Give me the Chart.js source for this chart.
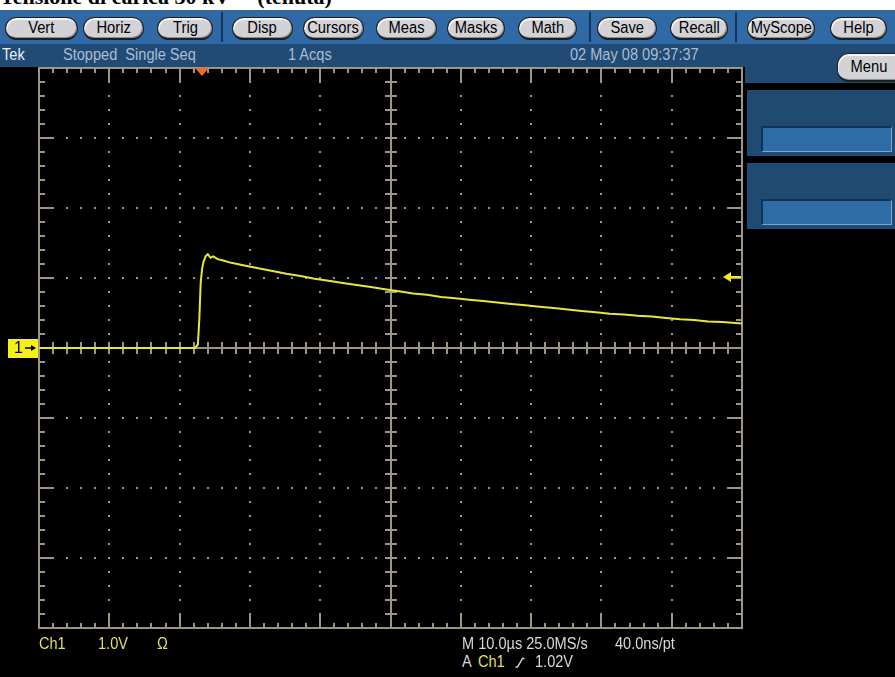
<!DOCTYPE html>
<html>
<head>
<meta charset="utf-8">
<script src="https://cdn.jsdelivr.net/npm/chart.js@4.4.1/dist/chart.umd.min.js"></script>
<style>
  html, body { margin: 0; padding: 0; }
  body {
    width: 895px; height: 677px; position: relative; overflow: hidden;
    background: #000;
    font-family: "Liberation Sans", Arial, sans-serif;
  }
  .abs { position: absolute; }
  #titleBand { left: 0; top: 0; width: 895px; height: 10px; background: #fff; overflow: hidden; }
  #titleText {
    position: absolute; left: 0; top: -14px; white-space: nowrap;
    font: bold 22px/22px "Liberation Serif", "DejaVu Serif", serif; color: #000;
  }
  #menuBar { left: 0; top: 10px; width: 895px; height: 34px; background: #306aa6; }
  .sep { position: absolute; top: 12px; width: 2px; height: 30px; background: #17355a; }
  .btn {
    position: absolute; top: 17px; height: 23px; box-sizing: border-box;
    border: 1px solid #1e1e1e; border-bottom-width: 2px; border-radius: 12px;
    background: #d3d3d7; color: #000;
    box-shadow: inset 1px 2px 0 #f4f4f4, inset -1px -1px 0 #8d8d92;
    font-size: 16px; line-height: 20px; text-align: center; white-space: nowrap;
  }
  .btn span { display: inline-block; transform: scaleX(0.92); }
  #status { left: 0; top: 44px; width: 895px; height: 23px; background: #214b75; }
  .st, .lbl { position: absolute; font-size: 16px; line-height: 18px; white-space: nowrap; transform: scaleX(0.91); transform-origin: 0 0; }
  .st { top: 46px; color: #a9bed3; }
  #sideTop { left: 745px; top: 67px; width: 150px; height: 16px; background: #214b75; }
  .panel { position: absolute; left: 747px; width: 148px; height: 66px; background: #1f4a72; }
  .field {
    position: absolute; left: 761px; width: 131px; height: 26px; box-sizing: border-box;
    background: #2f6ca6; border-top: 2px solid #123253; border-left: 2px solid #123253;
    border-bottom: 1px solid #7aa6d0; border-right: 1px solid #7aa6d0;
  }
  #scope { position: absolute; left: 0; top: 67px; }
  .yel { color: #e4df6c; }
  .wht { color: #d9d9d9; }
  #slope { position: absolute; left: 515px; top: 657px; }
</style>
</head>
<body>
<div id="titleBand" class="abs"><span id="titleText">Tensione di carica 30 kV &nbsp; &nbsp; (tenuta)</span></div>

<div id="menuBar" class="abs"></div>
<div class="btn" style="left:5px;width:73px"><span>Vert</span></div>
<div class="btn" style="left:83px;width:61px"><span>Horiz</span></div>
<div class="btn" style="left:157px;width:56px"><span>Trig</span></div>
<div class="sep" style="left:221px"></div>
<div class="btn" style="left:232px;width:61px"><span>Disp</span></div>
<div class="btn" style="left:303px;width:61px"><span>Cursors</span></div>
<div class="btn" style="left:376px;width:61px"><span>Meas</span></div>
<div class="btn" style="left:447px;width:58px"><span>Masks</span></div>
<div class="btn" style="left:518px;width:59px"><span>Math</span></div>
<div class="sep" style="left:589px"></div>
<div class="btn" style="left:597px;width:60px"><span>Save</span></div>
<div class="btn" style="left:670px;width:58px"><span>Recall</span></div>
<div class="sep" style="left:735px"></div>
<div class="btn" style="left:747px;width:68px"><span>MyScope</span></div>
<div class="btn" style="left:830px;width:57px"><span>Help</span></div>

<div id="status" class="abs"></div>
<span class="st" style="left:2px;color:#e6edf4">Tek</span>
<span class="st" style="left:63px">Stopped&nbsp; Single Seq</span>
<span class="st" style="left:288px">1 Acqs</span>
<span class="st" style="left:570px">02 May 08 09:37:37</span>

<div id="sideTop" class="abs"></div>
<div class="btn" style="left:837px;top:53px;height:29px;width:70px;text-align:left;padding-left:11px;line-height:26px"><span>Menu</span></div>
<div class="panel" style="top:90px"></div>
<div class="field" style="top:126px"></div>
<div class="panel" style="top:163px"></div>
<div class="field" style="top:199px"></div>

<canvas id="scope" width="745" height="575"></canvas>

<span class="lbl yel" style="left:39px;top:635px">Ch1</span>
<span class="lbl yel" style="left:98px;top:635px">1.0V</span>
<span class="lbl yel" style="left:157px;top:635px">Ω</span>
<span class="lbl wht" style="left:462px;top:635px">M 10.0µs 25.0MS/s</span>
<span class="lbl wht" style="left:615px;top:635px">40.0ns/pt</span>
<span class="lbl wht" style="left:462px;top:653px">A</span>
<span class="lbl yel" style="left:478px;top:653px">Ch1</span>
<svg id="slope" width="10" height="11" viewBox="0 0 10 11"><polyline points="0.5,10 2.5,10 7.5,1.5 9.5,1.5" fill="none" stroke="#d9d9d9" stroke-width="1.4"/></svg>
<span class="lbl wht" style="left:535px;top:653px">1.02V</span>

<script>
// Channel 1 acquisition: time in microseconds (trigger at 0), amplitude in volts
const timeUs = [-23.2, -18, -12, -6, -1.0, -0.6, -0.4, -0.2, 0.0, 0.2, 0.5, 0.8, 1.2, 1.6, 2.2,
  3, 4, 5, 6, 8, 10, 12, 14, 16, 18, 20, 22, 24, 26, 28, 30, 32, 34, 36, 38, 40, 42, 44, 46, 48,
  50, 52, 54, 56, 58, 60, 62, 64, 66, 68, 70, 72, 74, 76.8];
const ch1Volts = [0, 0, 0, 0, 0, 0.05, 0.40, 0.93, 1.13, 1.23, 1.31, 1.34, 1.29, 1.31, 1.27,
  1.25, 1.22, 1.20, 1.18, 1.14, 1.10, 1.06, 1.03, 0.99, 0.96, 0.93, 0.90, 0.87, 0.84, 0.81, 0.78, 0.76, 0.73, 0.71, 0.69, 0.67, 0.65, 0.63, 0.61, 0.59,
  0.57, 0.55, 0.53, 0.51, 0.49, 0.48, 0.46, 0.45, 0.43, 0.41, 0.40, 0.38, 0.37, 0.35];

// Display settings: 10 µs/div horizontally, 1.0 V/div vertically
const horizDivsUs = 10;
const horizStartUs = -23.2;
const horizDivCount = 10;
const vertDivV = 1.0;
const vertDivCount = 8;
const triggerLevelV = 1.02;
const triggerTimeUs = 0;
const groundLevelV = 0;

const GRID = '#9d9684';
const TRACE = '#e8e63c';

const graticule = {
  id: 'graticule',
  beforeDatasetsDraw(chart) {
    const { ctx, chartArea: a, scales: { x, y } } = chart;
    const xMaj = [], xMin = [], yMaj = [], yMin = [];
    for (let k = 0; k <= horizDivCount; k++) xMaj.push(x.getPixelForValue(horizStartUs + k * horizDivsUs));
    for (let k = 0; k <= horizDivCount * 5; k++) xMin.push(x.getPixelForValue(horizStartUs + k * horizDivsUs / 5));
    const yLo = -vertDivV * vertDivCount / 2;
    for (let k = 0; k <= vertDivCount; k++) yMaj.push(y.getPixelForValue(yLo + k * vertDivV));
    for (let k = 0; k <= vertDivCount * 5; k++) yMin.push(y.getPixelForValue(yLo + k * vertDivV / 5));
    const r = Math.round;
    ctx.save();
    ctx.fillStyle = GRID;
    ctx.strokeStyle = GRID;
    ctx.lineWidth = 2;
    // dotted interior division lines
    for (let i = 1; i < xMaj.length - 1; i++) {
      if (i === horizDivCount / 2) continue;
      for (const py of yMin) ctx.fillRect(r(xMaj[i]) - 1, r(py) - 1, 2, 2);
    }
    for (let i = 1; i < yMaj.length - 1; i++) {
      if (i === vertDivCount / 2) continue;
      for (const px of xMin) ctx.fillRect(r(px) - 1, r(yMaj[i]) - 1, 2, 2);
    }
    ctx.beginPath();
    // frame
    ctx.rect(r(a.left), r(a.top), r(a.right) - r(a.left), r(a.bottom) - r(a.top));
    // centre cross
    const cx = r(xMaj[horizDivCount / 2]), cy = r(yMaj[vertDivCount / 2]);
    ctx.moveTo(cx, a.top); ctx.lineTo(cx, a.bottom);
    ctx.moveTo(a.left, cy); ctx.lineTo(a.right, cy);
    // ticks on frame and centre lines
    xMin.forEach((px, k) => {
      const major = k % 5 === 0;
      const len = major ? 13 : 5;
      px = r(px);
      ctx.moveTo(px, a.top); ctx.lineTo(px, a.top + len);
      ctx.moveTo(px, a.bottom); ctx.lineTo(px, a.bottom - len);
      ctx.moveTo(px, cy - 6); ctx.lineTo(px, cy + 6);
    });
    yMin.forEach((py, k) => {
      const major = k % 5 === 0;
      const len = major ? 14 : 6;
      py = r(py);
      ctx.moveTo(a.left, py); ctx.lineTo(a.left + len, py);
      ctx.moveTo(a.right, py); ctx.lineTo(a.right - len, py);
      ctx.moveTo(cx - 6, py); ctx.lineTo(cx + 6, py);
    });
    ctx.stroke();
    ctx.restore();
  },
  afterDatasetsDraw(chart) {
    const { ctx, chartArea: a, scales: { x, y } } = chart;
    ctx.save();
    // trigger position marker
    const tx = Math.round(x.getPixelForValue(triggerTimeUs));
    ctx.fillStyle = '#f06a2a';
    ctx.beginPath();
    ctx.moveTo(tx - 7, a.top); ctx.lineTo(tx + 7, a.top); ctx.lineTo(tx, a.top + 8); ctx.closePath();
    ctx.fill();
    // trigger level arrow
    const ty = Math.round(y.getPixelForValue(triggerLevelV));
    ctx.fillStyle = '#f0ec1e';
    ctx.strokeStyle = '#f0ec1e';
    ctx.beginPath();
    ctx.moveTo(a.right - 19, ty); ctx.lineTo(a.right - 11, ty - 5); ctx.lineTo(a.right - 11, ty + 5); ctx.closePath();
    ctx.fill();
    ctx.lineWidth = 2;
    ctx.beginPath(); ctx.moveTo(a.right - 12, ty); ctx.lineTo(a.right - 1, ty); ctx.stroke();
    // channel 1 ground reference marker
    const gy = Math.round(y.getPixelForValue(groundLevelV));
    ctx.fillStyle = '#f4f01a';
    ctx.fillRect(8, gy - 9, 30, 19);
    ctx.fillStyle = '#000';
    ctx.font = '16px "Liberation Sans", sans-serif';
    ctx.textBaseline = 'middle';
    ctx.fillText('1', 14, gy + 1);
    ctx.beginPath();
    ctx.lineWidth = 1.5; ctx.strokeStyle = '#000';
    ctx.moveTo(25, gy); ctx.lineTo(34, gy); ctx.stroke();
    ctx.beginPath();
    ctx.moveTo(36, gy); ctx.lineTo(31, gy - 3); ctx.lineTo(31, gy + 3); ctx.closePath(); ctx.fill();
    ctx.restore();
  }
};

new Chart(document.getElementById('scope'), {
  type: 'line',
  data: {
    datasets: [{
      label: 'Ch1',
      data: timeUs.map((t, i) => ({ x: t, y: ch1Volts[i] })),
      borderColor: TRACE,
      borderWidth: 2,
      pointRadius: 0,
      tension: 0,
      fill: false
    }]
  },
  options: {
    responsive: false,
    animation: false,
    events: [],
    layout: { padding: { left: 39, right: 3, top: 1, bottom: 14 } },
    plugins: { legend: { display: false }, tooltip: { enabled: false }, title: { display: false } },
    scales: {
      x: { type: 'linear', display: false, min: horizStartUs, max: horizStartUs + horizDivCount * horizDivsUs },
      y: { type: 'linear', display: false, min: -vertDivV * vertDivCount / 2, max: vertDivV * vertDivCount / 2 }
    }
  },
  plugins: [graticule]
});
</script>
</body>
</html>
